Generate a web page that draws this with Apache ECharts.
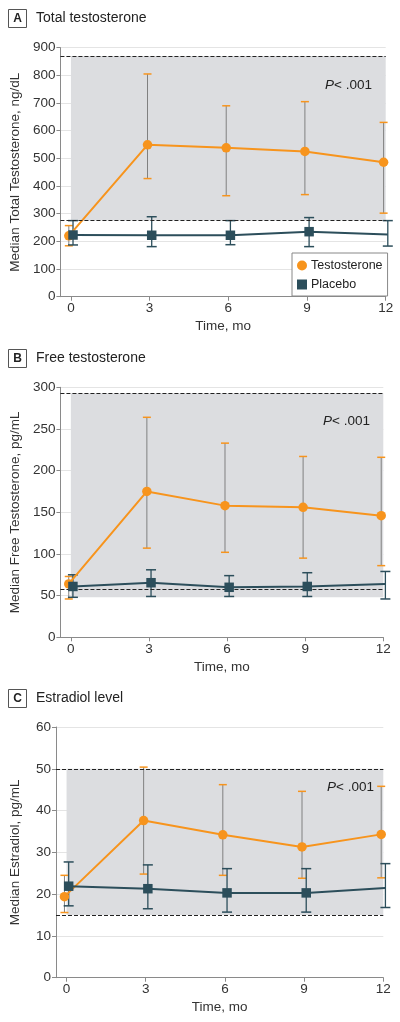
<!DOCTYPE html>
<html>
<head>
<meta charset="utf-8">
<script src="https://cdn.jsdelivr.net/npm/echarts@6/dist/echarts.min.js"></script>
<style>
html,body{margin:0;padding:0;background:#fff;}
#chart{width:400px;height:1022px;}
</style>
</head>
<body>
<div id="chart"></div>
<script>
// ---- data ----
const months = [0, 3, 6, 9, 12];
const xTickLabels = ['0', '3', '6', '9', '12'];

// Panel A: total testosterone (ng/dL)
const totTestoMed = [220, 549, 538, 525, 486];
const totTestoLo  = [184, 427, 365, 369, 302];
const totTestoHi  = [257, 805, 690, 705, 630];
const totPlacMed  = [223, 222, 222, 235, 225];
const totPlacLo   = [187, 181, 188, 181, 183];
const totPlacHi   = [275, 289, 275, 286, 275];
const totRefLines = [275, 870];
const totShade    = [275, 870];

// Panel B: free testosterone (pg/mL)
const freeTestoMed = [64, 175, 158, 156, 146];
const freeTestoLo  = [46, 107, 102, 95, 86];
const freeTestoHi  = [73, 264, 233, 217, 216];
const freePlacMed  = [61, 65.5, 60, 61, 64];
const freePlacLo   = [48, 49, 49, 49, 46];
const freePlacHi   = [75, 81, 74, 77.5, 79];
const freeRefLines = [58, 293];
const freeShade    = [48, 293];

// Panel C: estradiol (pg/mL)
const estTestoMed = [19.4, 37.6, 34.2, 31.3, 34.3];
const estTestoLo  = [15.6, 24.8, 24.5, 23.8, 23.9];
const estTestoHi  = [24.5, 50.4, 46.2, 44.6, 45.8];
const estPlacMed  = [21.9, 21.3, 20.3, 20.3, 21.5];
const estPlacLo   = [17.2, 16.5, 15.7, 15.7, 16.8];
const estPlacHi   = [27.7, 27.0, 26.1, 26.1, 27.3];
const estRefLines = [15, 50];
const estShade    = [15, 50];

const panelLetters = ['A', 'B', 'C'];
const panelTitles = ['Total testosterone', 'Free testosterone', 'Estradiol level'];
const yNames = ['Median Total Testosterone, ng/dL', 'Median Free Testosterone, pg/mL', 'Median Estradiol, pg/mL'];
const yMax = [900, 300, 60];
const yInterval = [100, 50, 10];

// ---- style ----
const FONT = "'Liberation Sans', Arial, sans-serif";
const ORANGE = '#F7941D';
const TEAL = '#2C4E5B';
const STEM = '#808080';
const AXIS = '#8a8a8a';
const TXT = '#333';
const OFF = 0.08;

const panels = [
  {tm: totTestoMed, tl: totTestoLo, th: totTestoHi, pm: totPlacMed, pl: totPlacLo, ph: totPlacHi, ref: totRefLines, shade: totShade},
  {tm: freeTestoMed, tl: freeTestoLo, th: freeTestoHi, pm: freePlacMed, pl: freePlacLo, ph: freePlacHi, ref: freeRefLines, shade: freeShade},
  {tm: estTestoMed, tl: estTestoLo, th: estTestoHi, pm: estPlacMed, pl: estPlacLo, ph: estPlacHi, ref: estRefLines, shade: estShade}
];

const grids = [
  {left: 58.3, right: 14.3, top: 47.7, height: 249},
  {left: 56, right: 16.7, top: 387.3, height: 250},
  {left: 56, right: 16.7, top: 727, height: 250.7}
];
const titleY = [18, 358, 698];
const pPos = [[325, 85], [323, 421], [327, 787]];

function errRender(stemColor, capColor, capW, lw) {
  return function (params, api) {
    const x = api.value(0), lo = api.value(1), hi = api.value(2);
    const a = api.coord([x, lo]), b = api.coord([x, hi]);
    return {
      type: 'group',
      children: [
        {type: 'line', shape: {x1: a[0], y1: a[1], x2: b[0], y2: b[1]}, style: {stroke: stemColor, lineWidth: lw}},
        {type: 'line', shape: {x1: a[0] - capW / 2, y1: a[1], x2: a[0] + capW / 2, y2: a[1]}, style: {stroke: capColor, lineWidth: 1.5}},
        {type: 'line', shape: {x1: b[0] - capW / 2, y1: b[1], x2: b[0] + capW / 2, y2: b[1]}, style: {stroke: capColor, lineWidth: 1.5}}
      ]
    };
  };
}

const xAxes = [], yAxes = [], series = [], graphics = [];
panels.forEach((p, i) => {
  xAxes.push({
    type: 'value', gridIndex: i, min: -0.4, max: 12,
    name: 'Time, mo', nameLocation: 'middle', nameGap: 23,
    nameTextStyle: {fontFamily: FONT, fontSize: 13.5, color: TXT},
    axisLine: {onZero: false, lineStyle: {color: AXIS}},
    axisTick: {show: true, length: 4, lineStyle: {color: AXIS}, customValues: months},
    axisLabel: {fontFamily: FONT, fontSize: 13.5, color: TXT, margin: 5, customValues: months,
      formatter: v => xTickLabels[months.indexOf(v)]},
    splitLine: {show: false}
  });
  yAxes.push({
    type: 'value', gridIndex: i, min: 0, max: yMax[i], interval: yInterval[i],
    name: yNames[i], nameLocation: 'middle', nameGap: 34,
    nameTextStyle: {fontFamily: FONT, fontSize: 13.5, color: TXT},
    axisLine: {show: true, onZero: false, lineStyle: {color: AXIS}},
    axisTick: {show: true, length: 4, lineStyle: {color: AXIS}},
    axisLabel: {fontFamily: FONT, fontSize: 13.5, color: TXT, margin: 5},
    splitLine: {show: true, lineStyle: {color: '#e4e4e4'}}
  });
  // error bars (testosterone) + reference shading / dashed lines
  series.push({
    type: 'custom', xAxisIndex: i, yAxisIndex: i, z: 3,
    renderItem: errRender(STEM, ORANGE, 8, 1),
    encode: {x: 0, y: [1, 2]},
    data: months.map((m, k) => [m - OFF, p.tl[k], p.th[k]]),
    markArea: {
      silent: true,
      itemStyle: {color: '#dcdde0'},
      data: [[{xAxis: 0, yAxis: p.shade[0]}, {xAxis: 12, yAxis: p.shade[1]}]]
    },
    markLine: {
      silent: true, symbol: 'none',
      lineStyle: {color: '#222', type: [4, 2], width: 1.2},
      label: {show: false},
      data: p.ref.map(v => ({yAxis: v}))
    }
  });
  series.push({
    type: 'custom', xAxisIndex: i, yAxisIndex: i, z: 3,
    renderItem: errRender(TEAL, TEAL, 10, 1.3),
    encode: {x: 0, y: [1, 2]},
    data: months.map((m, k) => [m + OFF, p.pl[k], p.ph[k]])
  });
  series.push({
    name: 'Testosterone', type: 'line', xAxisIndex: i, yAxisIndex: i, z: 4,
    symbol: 'circle', symbolSize: 9.5,
    lineStyle: {color: ORANGE, width: 2}, itemStyle: {color: ORANGE},
    data: months.map((m, k) => [m - OFF, p.tm[k]])
  });
  series.push({
    name: 'Placebo', type: 'line', xAxisIndex: i, yAxisIndex: i, z: 5,
    symbol: 'rect', symbolSize: 9.5,
    lineStyle: {color: TEAL, width: 2}, itemStyle: {color: TEAL},
    data: months.map((m, k) => [m + OFF, p.pm[k]])
  });
  // panel title
  graphics.push({type: 'rect', shape: {x: 8.5, y: titleY[i] - 8.5, width: 18, height: 18},
    style: {fill: '#fff', stroke: '#555', lineWidth: 1}});
  graphics.push({type: 'text', x: 17.5, y: titleY[i] + 0.5,
    style: {text: panelLetters[i], font: 'bold 12px ' + FONT, fill: '#222', align: 'center', verticalAlign: 'middle'}});
  graphics.push({type: 'text', x: 36, y: titleY[i] + 0.5,
    style: {text: panelTitles[i], font: '14px ' + FONT, fill: '#222', align: 'left', verticalAlign: 'middle'}});
  graphics.push({type: 'text', x: pPos[i][0], y: pPos[i][1], z: 10,
    style: {text: '{i|P}< .001', font: '13.5px ' + FONT, fill: '#222', verticalAlign: 'middle',
      rich: {i: {fontStyle: 'italic', fontFamily: FONT, fontSize: 13.5, fill: '#222'}}}});
});

const chart = echarts.init(document.getElementById('chart'), null, {renderer: 'canvas'});
chart.setOption({
  animation: false,
  backgroundColor: '#fff',
  grid: grids,
  xAxis: xAxes,
  yAxis: yAxes,
  series: series,
  graphic: graphics,
  legend: {
    data: [{name: 'Testosterone', icon: 'circle'}, {name: 'Placebo', icon: 'rect'}],
    orient: 'vertical', left: 292, top: 253,
    itemWidth: 10, itemHeight: 10, itemGap: 6,
    padding: [6, 5, 5, 5],
    backgroundColor: '#fff', borderColor: '#888', borderWidth: 1,
    textStyle: {fontFamily: FONT, fontSize: 12.5, color: '#222', padding: [0, 0, 0, -1]},
    selectedMode: false
  }
});
</script>
</body>
</html>
